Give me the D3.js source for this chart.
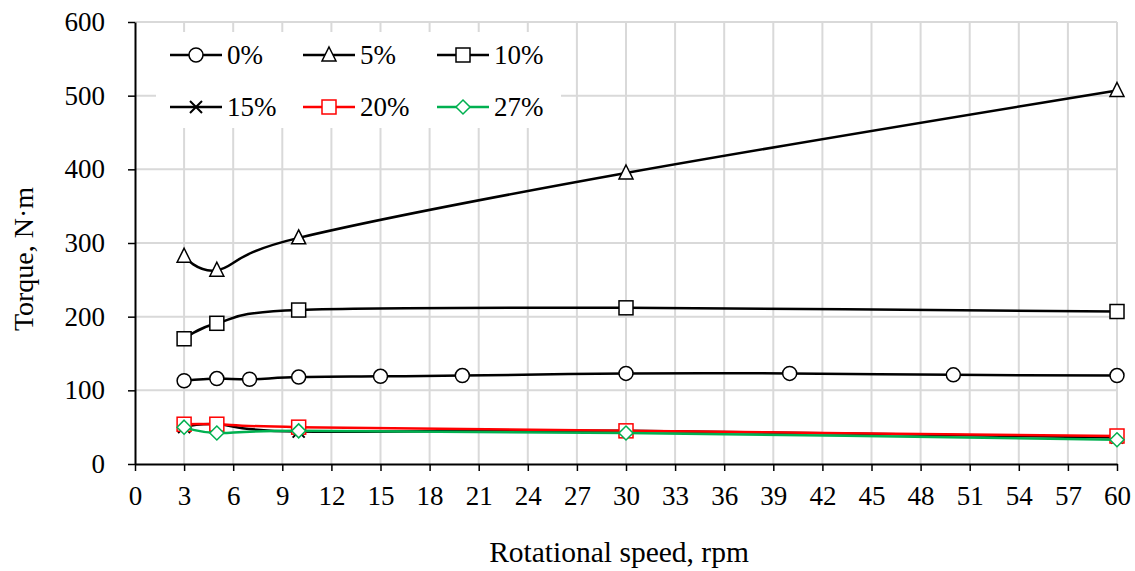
<!DOCTYPE html>
<html>
<head>
<meta charset="utf-8">
<script src="https://cdn.jsdelivr.net/npm/d3@7"></script>
<style>
  body { margin: 0; background: #fff; }
  svg text { font-family: "Liberation Serif", "Times New Roman", serif !important; }
</style>
</head>
<body>
<div id="vis"></div>
<script>
// frame
const FRAME_WIDTH = 1135;
const FRAME_HEIGHT = 571;
const MARGINS = {left: 135, right: 18, top: 22, bottom: 107};
const VIS_WIDTH = FRAME_WIDTH - MARGINS.left - MARGINS.right;
const VIS_HEIGHT = FRAME_HEIGHT - MARGINS.top - MARGINS.bottom;
const FONT = "'Liberation Serif', 'Times New Roman', serif";

// data
const speed0 = [3, 5, 7, 10, 15, 20, 30, 40, 50, 60];
const torque0 = [113, 116, 115, 118, 119, 120, 123, 123, 121, 120];
const speedN = [3, 5, 10, 30, 60];
const torque5 = [282, 263, 307, 395, 507];
const torque10 = [170, 191, 209, 212, 207];
const torque15 = [50, 54, 44, 45, 36];
const torque20 = [54, 54, 50, 45, 38];
const torque27 = [50, 42, 45, 42, 33];
const xTicks = d3.range(0, 61, 3);
const yTicks = [0, 100, 200, 300, 400, 500, 600];

const series = [
  {name: "0%", xs: speed0, ys: torque0, color: "#000", marker: "circle"},
  {name: "5%", xs: speedN, ys: torque5, color: "#000", marker: "triangle"},
  {name: "10%", xs: speedN, ys: torque10, color: "#000", marker: "square"},
  {name: "15%", xs: speedN, ys: torque15, color: "#000", marker: "cross"},
  {name: "20%", xs: speedN, ys: torque20, color: "#ff0000", marker: "square"},
  {name: "27%", xs: speedN, ys: torque27, color: "#00b050", marker: "diamond"}
];

const svg = d3.select("#vis")
  .append("svg")
  .attr("width", FRAME_WIDTH)
  .attr("height", FRAME_HEIGHT)
  .style("font-family", FONT);

const X_SCALE = d3.scaleLinear().domain([0, 60]).range([MARGINS.left, MARGINS.left + VIS_WIDTH]);
const Y_SCALE = d3.scaleLinear().domain([0, 600]).range([MARGINS.top + VIS_HEIGHT, MARGINS.top]);

// grid
svg.append("g")
  .selectAll("line")
  .data(xTicks.slice(1))
  .join("line")
  .attr("x1", d => X_SCALE(d)).attr("x2", d => X_SCALE(d))
  .attr("y1", Y_SCALE(0)).attr("y2", Y_SCALE(600))
  .attr("stroke", "#d9d9d9").attr("stroke-width", 2);
svg.append("g")
  .selectAll("line")
  .data(yTicks.slice(1))
  .join("line")
  .attr("x1", X_SCALE(0)).attr("x2", X_SCALE(60))
  .attr("y1", d => Y_SCALE(d)).attr("y2", d => Y_SCALE(d))
  .attr("stroke", "#d9d9d9").attr("stroke-width", 2);

// axes
const xAxis = svg.append("g")
  .attr("transform", "translate(0," + Y_SCALE(0) + ")")
  .call(d3.axisBottom(X_SCALE).tickValues(xTicks).tickSize(7).tickPadding(15).tickSizeOuter(0));
const yAxis = svg.append("g")
  .attr("transform", "translate(" + X_SCALE(0) + ",0)")
  .call(d3.axisLeft(Y_SCALE).tickValues(yTicks).tickSize(7).tickPadding(23).tickSizeOuter(0));
[xAxis, yAxis].forEach(a => {
  a.attr("font-family", null).attr("font-size", null);
  a.select(".domain").attr("stroke", "#000").attr("stroke-width", 2);
  a.selectAll(".tick line").attr("stroke", "#000").attr("stroke-width", 1.5);
  a.selectAll("text").style("font-size", "27px").style("font-family", FONT).attr("fill", "#000");
});

// titles
svg.append("text")
  .attr("x", X_SCALE(30) - 7).attr("y", 562)
  .attr("text-anchor", "middle").style("font-size", "29.5px")
  .text("Rotational speed, rpm");
svg.append("text")
  .attr("transform", "translate(33,259) rotate(-90)")
  .attr("text-anchor", "middle").style("font-size", "28px")
  .text("Torque, N·m");

// markers
function drawMarker(g, type, color, x, y) {
  const s = 7;
  if (type === "circle") {
    g.append("circle").attr("cx", x).attr("cy", y).attr("r", s)
      .attr("fill", "#fff").attr("stroke", color).attr("stroke-width", 1.5);
  } else if (type === "square") {
    g.append("rect").attr("x", x - s).attr("y", y - s).attr("width", 2 * s).attr("height", 2 * s)
      .attr("fill", "#fff").attr("stroke", color).attr("stroke-width", 1.5);
  } else if (type === "triangle") {
    g.append("path").attr("d", `M${x},${y - s - 1}L${x + s},${y + s - 1}L${x - s},${y + s - 1}Z`)
      .attr("fill", "#fff").attr("stroke", color).attr("stroke-width", 1.5);
  } else if (type === "diamond") {
    g.append("path").attr("d", `M${x},${y - s}L${x + s},${y}L${x},${y + s}L${x - s},${y}Z`)
      .attr("fill", "#fff").attr("stroke", color).attr("stroke-width", 1.5);
  } else if (type === "cross") {
    g.append("path").attr("d", `M${x - 6},${y - 6}L${x + 6},${y + 6}M${x + 6},${y - 6}L${x - 6},${y + 6}`)
      .attr("fill", "none").attr("stroke", color).attr("stroke-width", 2);
  }
}

const line = d3.line()
  .x(d => X_SCALE(d[0]))
  .y(d => Y_SCALE(d[1]))
  .curve(d3.curveCatmullRom.alpha(0));

series.forEach(s => {
  const pts = s.xs.map((x, i) => [x, s.ys[i]]);
  const g = svg.append("g");
  g.append("path").datum(pts)
    .attr("d", line)
    .attr("fill", "none").attr("stroke", s.color).attr("stroke-width", 2.5);
  pts.forEach(p => drawMarker(g, s.marker, s.color, X_SCALE(p[0]), Y_SCALE(p[1])));
});

// legend
const legend = svg.append("g");
legend.append("rect")
  .attr("x", 156).attr("y", 32).attr("width", 405).attr("height", 96)
  .attr("fill", "#fff");
const colX = [170, 303, 437];
const rowY = [55, 107];
series.forEach((s, i) => {
  const lx = colX[i % 3], ly = rowY[Math.floor(i / 3)];
  legend.append("line")
    .attr("x1", lx).attr("x2", lx + 52).attr("y1", ly).attr("y2", ly)
    .attr("stroke", s.color).attr("stroke-width", 2.5);
  drawMarker(legend, s.marker, s.color, lx + 26, ly);
  legend.append("text")
    .attr("x", lx + 57).attr("y", ly + 9)
    .style("font-size", "27px").attr("fill", "#000")
    .text(s.name);
});
</script>
</body>
</html>
